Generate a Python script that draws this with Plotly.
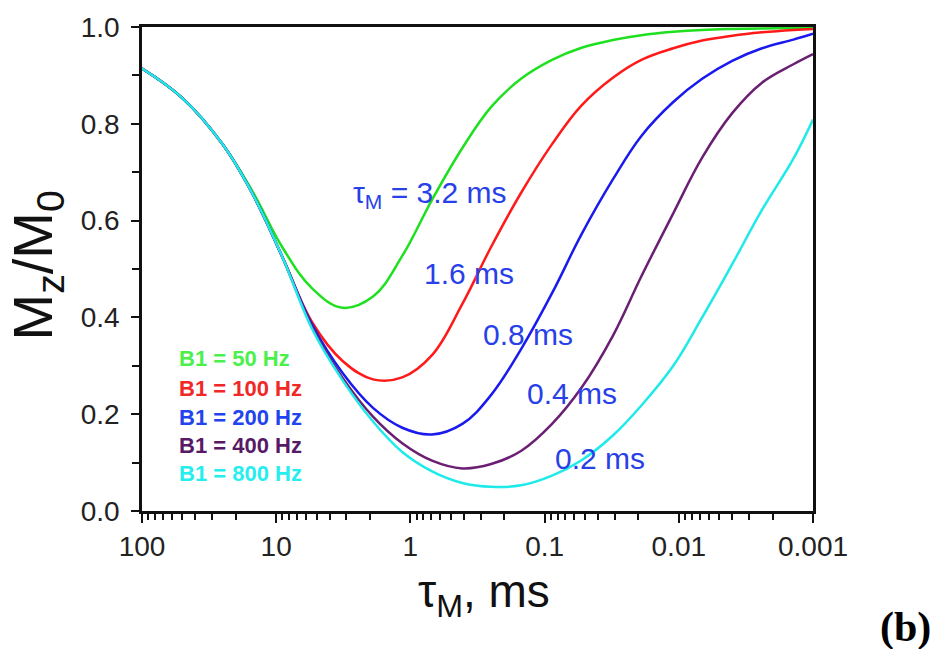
import plotly.graph_objects as go

# Mixing time tau_M (ms), sampled every ~0.22 decade, shared by all curves
tau_ms = [100, 50, 25, 15, 9.0, 5.4, 3.2, 1.9, 1.15, 0.69, 0.41, 0.25, 0.15,
          0.088, 0.053, 0.031, 0.019, 0.011, 0.0067, 0.004, 0.0024, 0.0014, 0.001]

# Normalised longitudinal magnetisation Mz/M0 for each B1 amplitude
mz_50 = [0.914, 0.853, 0.757, 0.66, 0.545, 0.46, 0.42, 0.443, 0.527, 0.643, 0.75, 0.835,
         0.893, 0.932, 0.957, 0.973, 0.983, 0.99, 0.994, 0.996, 0.997, 0.998, 0.999]
mz_100 = [0.914, 0.853, 0.757, 0.655, 0.525, 0.39, 0.31, 0.272, 0.276, 0.322, 0.428, 0.546,
          0.657, 0.758, 0.838, 0.895, 0.932, 0.956, 0.972, 0.982, 0.989, 0.994, 0.996]
mz_200 = [0.914, 0.853, 0.757, 0.655, 0.525, 0.385, 0.285, 0.213, 0.172, 0.158, 0.18, 0.24,
          0.334, 0.45, 0.572, 0.685, 0.775, 0.845, 0.893, 0.93, 0.956, 0.974, 0.986]
mz_400 = [0.914, 0.853, 0.757, 0.655, 0.525, 0.38, 0.275, 0.195, 0.14, 0.104, 0.088, 0.097,
          0.124, 0.18, 0.255, 0.362, 0.485, 0.615, 0.73, 0.822, 0.885, 0.923, 0.944]
mz_800 = [0.914, 0.853, 0.757, 0.655, 0.525, 0.376, 0.27, 0.185, 0.122, 0.082, 0.058, 0.05,
          0.053, 0.073, 0.105, 0.156, 0.218, 0.30, 0.40, 0.51, 0.622, 0.728, 0.809]

series_names = ["B1 = 50 Hz", "B1 = 100 Hz", "B1 = 200 Hz", "B1 = 400 Hz", "B1 = 800 Hz"]
line_colors = ["#1fe01f", "#ff1a1a", "#1a1aee", "#6a1f73", "#1eeaea"]
label_colors = ["#4cf04c", "#f02828", "#2244ee", "#571a66", "#26eeee"]

tick_vals = [100, 10, 1, 0.1, 0.01, 0.001]
tick_text = ["100", "10", "1", "0.1", "0.01", "0.001"]

mix_labels = ["τ<sub>M</sub> = 3.2 ms", "1.6 ms", "0.8 ms", "0.4 ms", "0.2 ms"]

mzs = [mz_50, mz_100, mz_200, mz_400, mz_800]

fig = go.Figure()
for name, m, c in zip(series_names, mzs, line_colors):
    fig.add_trace(go.Scatter(
        x=tau_ms, y=m, mode="lines", name=name,
        line=dict(color=c, width=2.5, shape="spline", smoothing=1.1),
        showlegend=False,
    ))

# plot area in pixels: x 142..813, y 24..511
W, H = 934, 649
L, R, T, B = 142, 121, 24, 138
pw, ph = W - L - R, H - T - B


def px(xp):
    return (xp - L) / pw


def py(yp):
    return (H - B - yp) / ph


annotations = []

# mixing-time labels along the curves
mix_pos = [(430, 193), (469, 272), (528, 333), (572, 393), (600, 458)]
for text, (xp, yp) in zip(mix_labels, mix_pos):
    annotations.append(dict(
        x=px(xp), y=py(yp), xref="paper", yref="paper", text=text,
        showarrow=False, xanchor="center", yanchor="middle",
        font=dict(family="Liberation Sans, Arial", size=30, color="#2840e8"),
    ))

# B1 key written in the colour of each curve
key_y = [358, 388, 417, 445, 473]
for name, col, yp in zip(series_names, label_colors, key_y):
    annotations.append(dict(
        x=px(177), y=py(yp), xref="paper", yref="paper", text="<b>%s</b>" % name,
        showarrow=False, xanchor="left", yanchor="middle",
        font=dict(family="Liberation Sans, Arial", size=22, color=col),
    ))

# axis titles
annotations.append(dict(
    x=px(37), y=py(264), xref="paper", yref="paper",
    text="M<sub>z</sub>/M<sub>0</sub>", textangle=-90, showarrow=False,
    xanchor="center", yanchor="middle",
    font=dict(family="Liberation Sans, Arial", size=56, color="#111111"),
))
annotations.append(dict(
    x=px(484), y=py(595), xref="paper", yref="paper",
    text="τ<sub>M</sub>, ms", showarrow=False,
    xanchor="center", yanchor="middle",
    font=dict(family="Liberation Sans, Arial", size=46, color="#111111"),
))
# panel tag
annotations.append(dict(
    x=px(906), y=py(628), xref="paper", yref="paper",
    text="<b>(b)</b>", showarrow=False, xanchor="center", yanchor="middle",
    font=dict(family="Liberation Serif, Times New Roman", size=42, color="#000000"),
))

fig.update_layout(
    width=W, height=H,
    margin=dict(l=L, r=R, t=T, b=B, pad=0),
    paper_bgcolor="white", plot_bgcolor="white",
    annotations=annotations,
    xaxis=dict(
        type="log", range=[2, -3],
        tickmode="array", tickvals=tick_vals, ticktext=tick_text,
        ticks="outside", ticklen=9, tickwidth=2, tickcolor="#111111",
        minor=dict(ticks="outside", ticklen=6, tickwidth=1.5, tickcolor="#111111",
                   dtick="D1", showgrid=False),
        showline=True, linecolor="#111111", linewidth=2.5, mirror=True,
        showgrid=False, zeroline=False,
        tickfont=dict(family="Liberation Sans, Arial", size=28, color="#222222"),
        ticklabelstandoff=0,
    ),
    yaxis=dict(
        range=[0, 1], tickmode="array",
        tickvals=[0, 0.2, 0.4, 0.6, 0.8, 1.0],
        ticktext=["0.0", "0.2", "0.4", "0.6", "0.8", "1.0"],
        ticks="outside", ticklen=8, tickwidth=2, tickcolor="#111111",
        minor=dict(ticks="outside", ticklen=7, tickwidth=1.5, tickcolor="#111111",
                   dtick=0.1, showgrid=False),
        showline=True, linecolor="#111111", linewidth=2.5, mirror=True,
        showgrid=False, zeroline=False,
        tickfont=dict(family="Liberation Sans, Arial", size=28, color="#222222"),
        ticklabelstandoff=6,
    ),
)

fig.write_html("out.html")
